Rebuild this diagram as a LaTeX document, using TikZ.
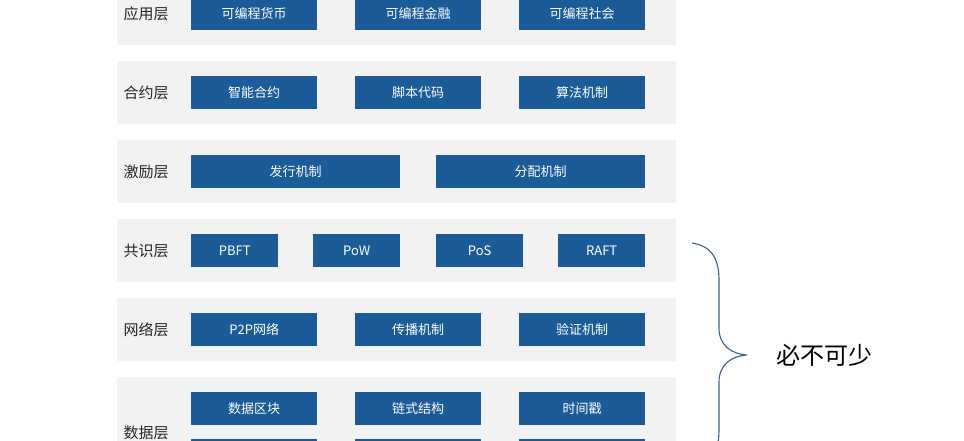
\documentclass[tikz,border=0pt]{standalone}
\usepackage{fontspec}
\setmainfont{Noto Sans CJK SC}
\definecolor{boxblue}{HTML}{1B5B97}
\definecolor{bandgray}{HTML}{F2F2F2}
\definecolor{bracecol}{HTML}{3E5F8A}
\definecolor{lblcol}{HTML}{262626}
\begin{document}
\begin{tikzpicture}[x=1pt,y=-1pt,
  band/.style={fill=bandgray, draw=none, minimum width=559pt, minimum height=63pt, inner sep=0pt, anchor=north west},
  blk/.style={fill=boxblue, text=white, font=\fontsize{13}{13}\selectfont, inner sep=0pt, minimum height=33pt, anchor=north west},
  wide3/.style={blk, minimum width=126pt},
  wide2/.style={blk, minimum width=209pt},
  wide4/.style={blk, minimum width=87pt},
  lbl/.style={font=\fontsize{15}{15}\selectfont, text=lblcol},
  bracestyle/.style={draw=bracecol, line width=1.1pt}]
\useasboundingbox (0,0) rectangle (964,440);
\clip (0,0) rectangle (964,440);
\fill[white] (0,0) rectangle (964,440);
% bands
\node[band] (b1) at (117,-18) {};
\node[band] (b2) at (117,61) {};
\node[band] (b3) at (117,140) {};
\node[band] (b4) at (117,219) {};
\node[band] (b5) at (117,298) {};
\node[band, minimum height=111pt] (b6) at (117,377) {};
% labels
\node[lbl] (l1) at (146,13.5) {应用层};
\node[lbl] (l2) at (146,92.5) {合约层};
\node[lbl] (l3) at (146,171.5) {激励层};
\node[lbl] (l4) at (146,250.5) {共识层};
\node[lbl] (l5) at (146,329.5) {网络层};
\node[lbl] (l6) at (146,432.5) {数据层};
% row 1
\node[wide3] (a1) at (191,-3) {可编程货币};
\node[wide3] (a2) at (355,-3) {可编程金融};
\node[wide3] (a3) at (519,-3) {可编程社会};
% row 2
\node[wide3] (c1) at (191,76) {智能合约};
\node[wide3] (c2) at (355,76) {脚本代码};
\node[wide3] (c3) at (519,76) {算法机制};
% row 3
\node[wide2] (i1) at (191,155) {发行机制};
\node[wide2] (i2) at (436,155) {分配机制};
% row 4
\node[wide4] (k1) at (191,234) {PBFT};
\node[wide4] (k2) at (313,234) {PoW};
\node[wide4] (k3) at (436,234) {PoS};
\node[wide4] (k4) at (558,234) {RAFT};
% row 5
\node[wide3] (n1) at (191,313) {P2P网络};
\node[wide3] (n2) at (355,313) {传播机制};
\node[wide3] (n3) at (519,313) {验证机制};
% row 6
\node[wide3] (d1) at (191,392) {数据区块};
\node[wide3] (d2) at (355,392) {链式结构};
\node[wide3] (d3) at (519,392) {时间戳};
\node[wide3] (d4) at (191,439) {};
\node[wide3] (d5) at (355,439) {};
\node[wide3] (d6) at (519,439) {};
% brace
\draw[bracestyle] (692,243) .. controls (711,246) and (719,258) .. (719,280)
  -- (719,328) .. controls (719,345) and (731,354) .. (747,355)
  .. controls (731,356) and (719,365) .. (719,382)
  -- (719,430) .. controls (719,452) and (711,464) .. (692,467);
\node[font=\fontsize{24}{24}\selectfont, text=black] (t) at (824,355) {必不可少};
\end{tikzpicture}
\end{document}
